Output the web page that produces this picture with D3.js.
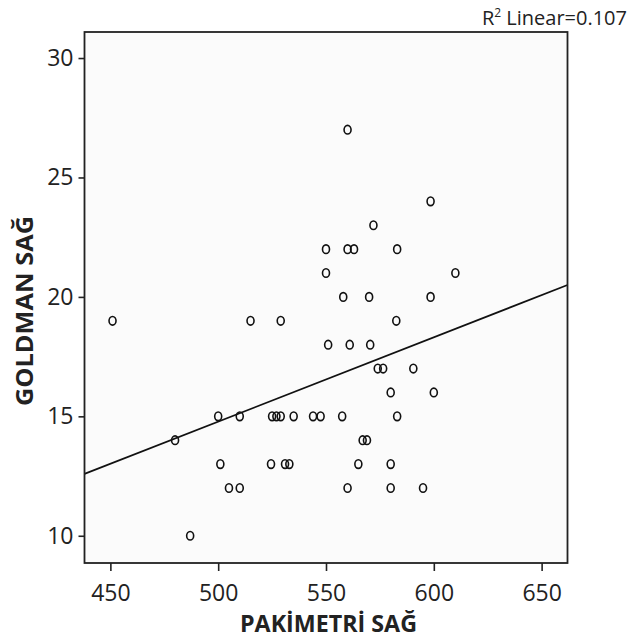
<!DOCTYPE html>
<html>
<head>
<meta charset="utf-8">
<script src="https://cdn.jsdelivr.net/npm/d3@7"></script>
<style>
  html, body { margin: 0; padding: 0; background: #ffffff; }
  svg { display: block; }
</style>
</head>
<body>
<div id="chart"></div>
<script>
// ---- Data ----
const pakimetri = [
  560,
  598.5,
  572,
  550, 560, 563, 583,
  550, 610,
  558, 570, 598.5,
  451, 515, 529, 582.6,
  551, 561, 570.5,
  574, 576.5, 590.5,
  580, 600,
  500, 510, 525, 527, 529, 535, 544, 547.5, 557.5, 583,
  480, 567, 569,
  501, 524.5, 531, 533, 565, 580,
  505, 510, 560, 580, 595,
  487
];
const goldman = [
  27,
  24,
  23,
  22, 22, 22, 22,
  21, 21,
  20, 20, 20,
  19, 19, 19, 19,
  18, 18, 18,
  17, 17, 17,
  16, 16,
  15, 15, 15, 15, 15, 15, 15, 15, 15, 15,
  14, 14, 14,
  13, 13, 13, 13, 13, 13,
  12, 12, 12, 12, 12,
  10
];
const xTicks = [450, 500, 550, 600, 650];
const yTicks = [10, 15, 20, 25, 30];
const xDomain = [438, 662];
const yDomain = [8.86, 31.09];
const fitIntercept = -2.87;
const fitSlope = 0.0353;
const xLabel = "PAKİMETRİ SAĞ";
const yLabel = "GOLDMAN SAĞ";
const r2Text = "0.107";

// ---- Layout ----
const W = 629, H = 639;
const plot = { left: 84.5, right: 567.5, top: 32, bottom: 563 };

const svg = d3.select("#chart").append("svg")
  .attr("width", W).attr("height", H);

const x = d3.scaleLinear().domain(xDomain).range([plot.left, plot.right]);
const y = d3.scaleLinear().domain(yDomain).range([plot.bottom, plot.top]);

// plot background
svg.append("rect")
  .attr("x", plot.left).attr("y", plot.top)
  .attr("width", plot.right - plot.left).attr("height", plot.bottom - plot.top)
  .attr("fill", "#fbfbfb");

const font = "'Open Sans', 'DejaVu Sans', sans-serif";

// axes
const xAxis = d3.axisBottom(x).tickValues(xTicks).tickSize(8).tickPadding(14).tickFormat(d3.format("d"));
const yAxis = d3.axisLeft(y).tickValues(yTicks).tickSize(6).tickPadding(5).tickFormat(d3.format("d"));

const gx = svg.append("g").attr("transform", `translate(0,${plot.bottom})`).call(xAxis);
const gy = svg.append("g").attr("transform", `translate(${plot.left},0)`).call(yAxis);
[gx, gy].forEach(g => {
  g.select(".domain").remove();
  g.selectAll(".tick line").attr("stroke", "#222").attr("stroke-width", 1.6);
  g.selectAll(".tick text").attr("fill", "#222").style("font-family", font).style("font-size", "23px");
});

// regression line
const lx = xDomain;
svg.append("line")
  .attr("x1", x(lx[0])).attr("y1", y(fitIntercept + fitSlope * lx[0]))
  .attr("x2", x(lx[1])).attr("y2", y(fitIntercept + fitSlope * lx[1]))
  .attr("stroke", "#111").attr("stroke-width", 1.7);

// points
const pts = pakimetri.map((v, i) => ({ x: v, y: goldman[i] }));
svg.append("g").selectAll("ellipse").data(pts).join("ellipse")
  .attr("cx", d => x(d.x)).attr("cy", d => y(d.y))
  .attr("rx", 3.5).attr("ry", 4.3)
  .attr("fill", "none").attr("stroke", "#111").attr("stroke-width", 1.6);

// frame
svg.append("rect")
  .attr("x", plot.left).attr("y", plot.top)
  .attr("width", plot.right - plot.left).attr("height", plot.bottom - plot.top)
  .attr("fill", "none").attr("stroke", "#222").attr("stroke-width", 1.8);

// axis titles
svg.append("text")
  .attr("x", 328.5).attr("y", 632)
  .attr("text-anchor", "middle")
  .style("font-family", font).style("font-weight", "bold").style("font-size", "23px")
  .attr("textLength", 177).attr("lengthAdjust", "spacingAndGlyphs")
  .attr("fill", "#222")
  .text(xLabel);

svg.append("text")
  .attr("transform", `translate(33,${311}) rotate(-90)`)
  .attr("text-anchor", "middle")
  .style("font-family", font).style("font-weight", "bold").style("font-size", "24px")
  .attr("textLength", 190).attr("lengthAdjust", "spacingAndGlyphs")
  .attr("fill", "#222")
  .text(yLabel);

// R² annotation
const r2 = svg.append("text")
  .attr("x", 627).attr("y", 25)
  .attr("text-anchor", "end")
  .style("font-family", font).style("font-size", "20px")
  .attr("fill", "#222");
r2.append("tspan").text("R");
r2.append("tspan").attr("dy", -8).style("font-size", "12px").text("2");
r2.append("tspan").attr("dy", 8).text(" Linear=" + r2Text);
</script>
</body>
</html>
